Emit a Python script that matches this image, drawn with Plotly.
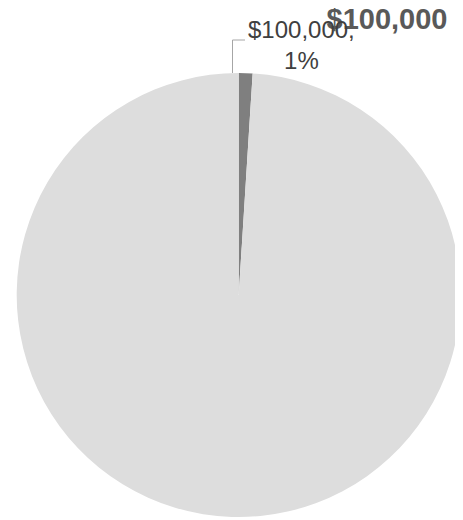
import plotly.graph_objects as go

labels = ["$100,000", "Other"]
values = [100000, 9900000]
colors = ["#7f7f7f", "#dddddd"]
title_text = "$100,000"

W, H = 463, 520
# the page body keeps its default 8px margin, so place things 8px up/left
OFF = 8


def px_x(x):
    return (x - OFF) / W


def px_y(y):
    return 1 - (y - OFF) / H


total = sum(values)
pct = round(100 * values[0] / total)
label_text = f"${values[0]:,.0f},<br>{pct}%"

fig = go.Figure(
    go.Pie(
        labels=labels,
        values=values,
        sort=False,
        direction="counterclockwise",
        rotation=0,
        marker={"colors": colors, "line": {"width": 0}},
        textinfo="none",
        hoverinfo="label+value+percent",
        showlegend=False,
        domain={"x": [px_x(16.7), px_x(460.7)], "y": [px_y(517), px_y(73)]},
    )
)

# leader line from the small slice up to its label
fig.add_shape(
    type="line", xref="paper", yref="paper",
    x0=px_x(232.5), y0=px_y(73), x1=px_x(232.5), y1=px_y(40),
    line={"color": "#a6a6a6", "width": 1},
)
fig.add_shape(
    type="line", xref="paper", yref="paper",
    x0=px_x(232.5), y0=px_y(40), x1=px_x(245), y1=px_y(40),
    line={"color": "#a6a6a6", "width": 1},
)
fig.add_annotation(
    text=label_text, xref="paper", yref="paper",
    x=px_x(301), y=px_y(45.5), xanchor="center", yanchor="middle",
    showarrow=False, align="center",
    font={"family": "Liberation Sans, Arial", "size": 24, "color": "#404040"},
)

fig.update_layout(
    title={
        "text": f"<b>{title_text}</b>",
        "x": px_x(387), "xanchor": "center",
        "y": px_y(19), "yanchor": "middle",
        "font": {"family": "Liberation Sans, Arial", "size": 29, "color": "#595959"},
    },
    width=W,
    height=H,
    margin={"l": 0, "r": 0, "t": 0, "b": 0},
    paper_bgcolor="white",
    plot_bgcolor="white",
)

fig.write_html("out.html")
